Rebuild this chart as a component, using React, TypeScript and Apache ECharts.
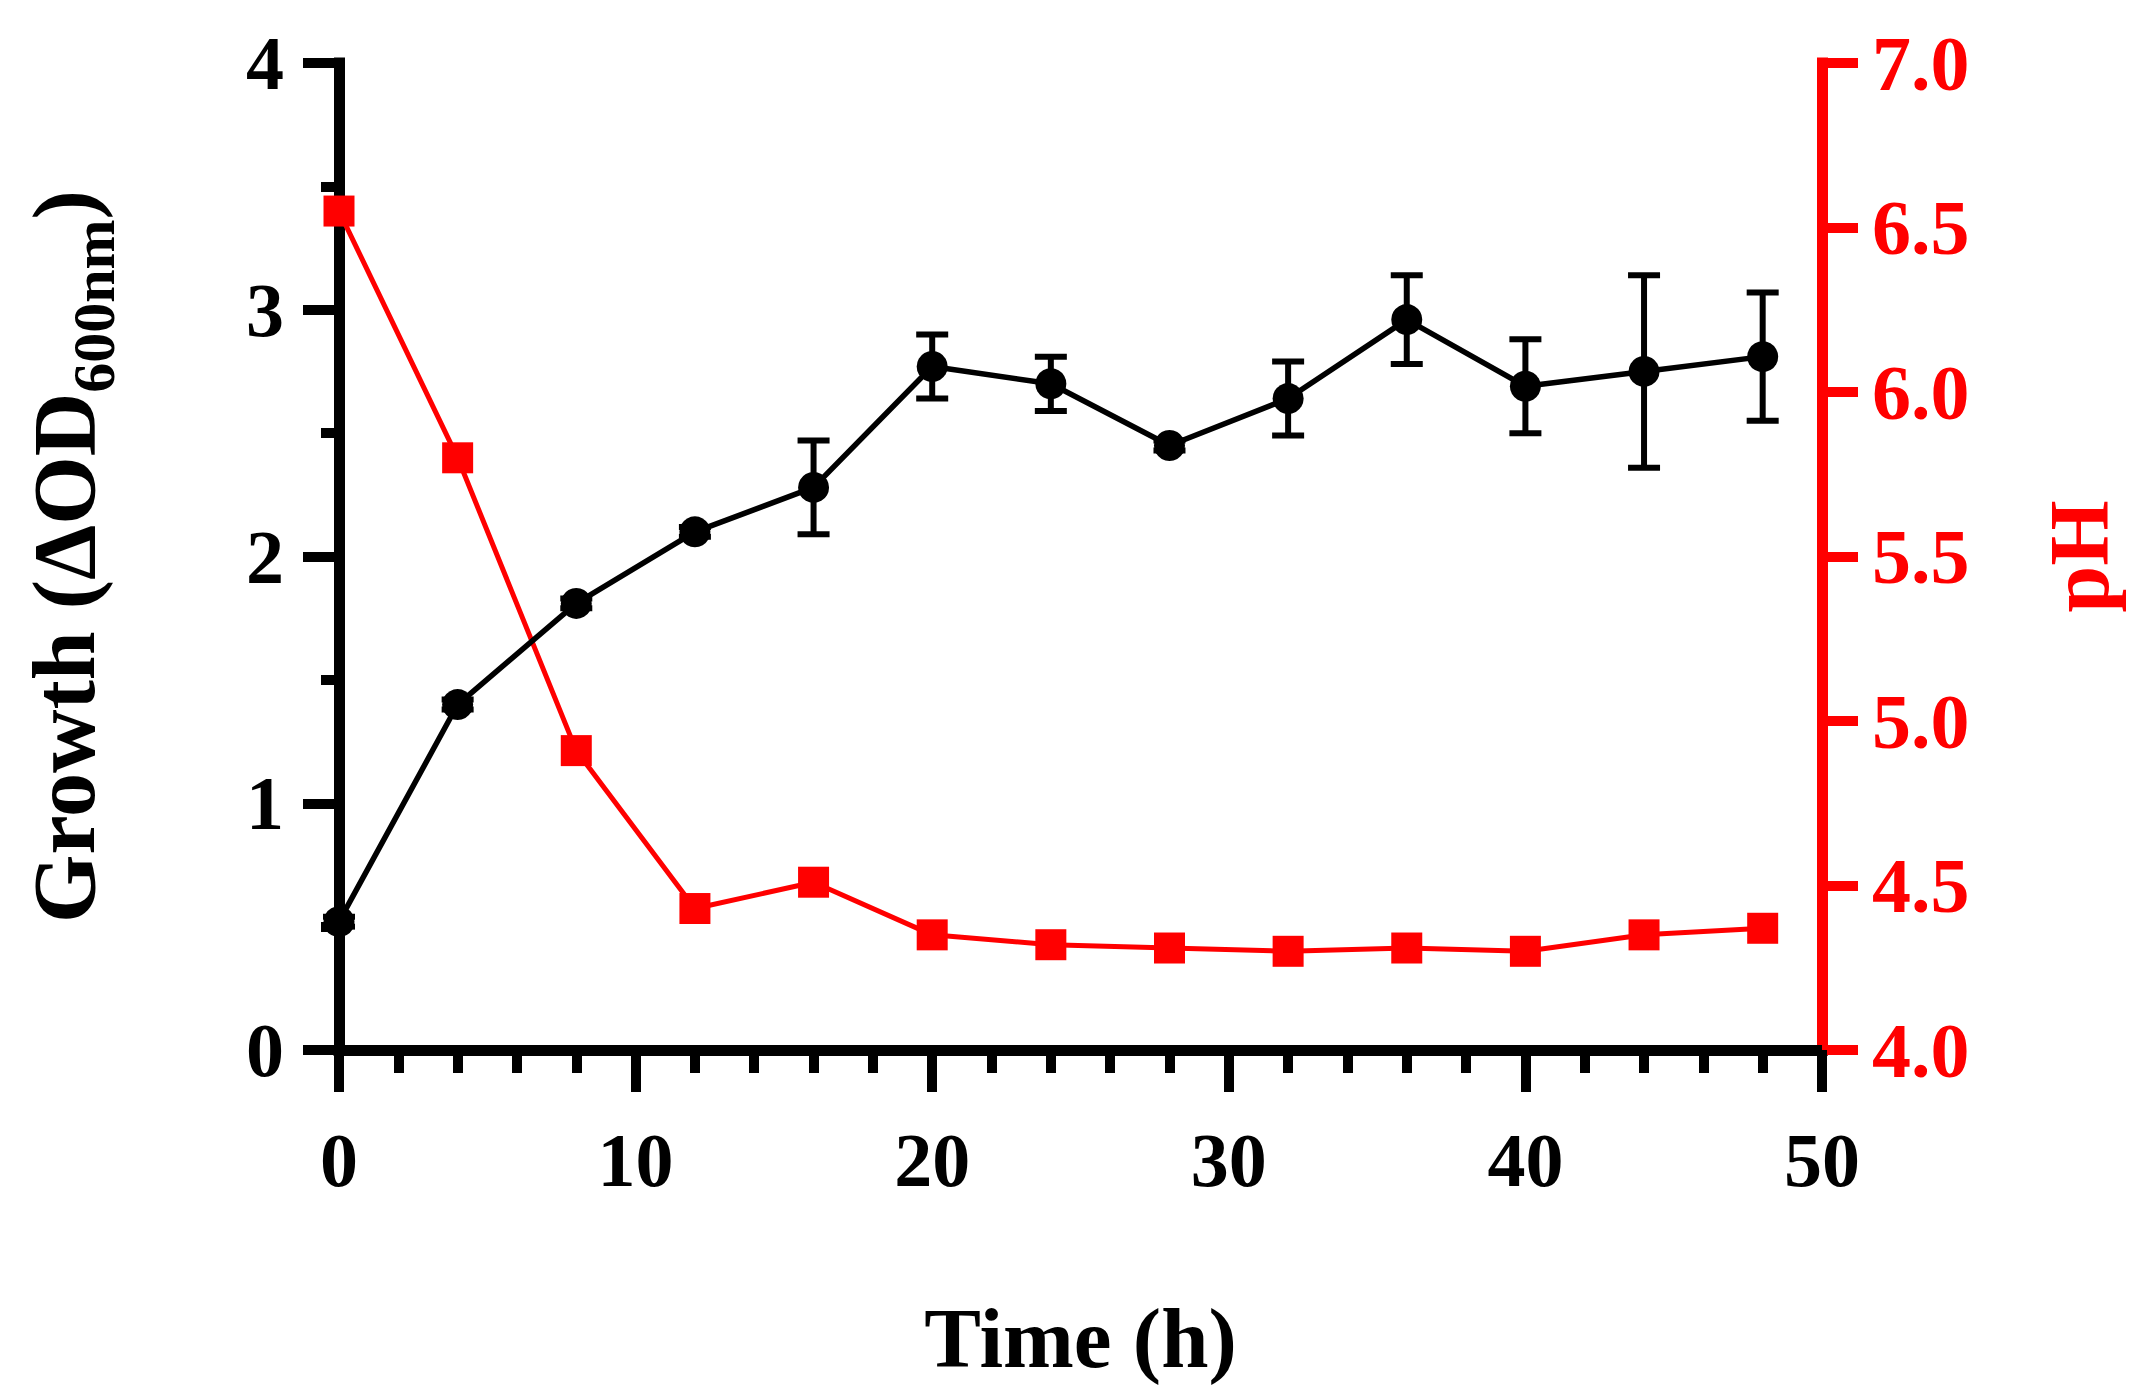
import React, { useEffect, useRef } from "react";
import * as echarts from "echarts";

const times = [0, 4, 8, 12, 16, 20, 24, 28, 32, 36, 40, 44, 48];
const growth = [0.52, 1.40, 1.81, 2.10, 2.28, 2.77, 2.70, 2.45, 2.64, 2.96, 2.69, 2.75, 2.81];
const growthErr = [0.02, 0.02, 0.02, 0.02, 0.19, 0.13, 0.11, 0.02, 0.15, 0.18, 0.19, 0.39, 0.26];
const pH = [6.55, 5.80, 4.91, 4.43, 4.51, 4.35, 4.32, 4.31, 4.30, 4.31, 4.30, 4.35, 4.37];

const FONT = "Liberation Serif";
const BLACK = "#000000";
const RED = "#ff0000";

export default function App() {
  const ref = useRef<HTMLDivElement>(null);

  useEffect(() => {
    document.body.style.margin = "0";
    const chart = echarts.init(ref.current!, null, { renderer: "svg" });
    const growthPts = times.map((t, i) => [t, growth[i]]);
    const phPts = times.map((t, i) => [t, pH[i]]);
    const errPts = times.map((t, i) => [t, growth[i], growthErr[i]]);

    chart.setOption({
      animation: false,
      backgroundColor: "#ffffff",
      grid: { left: 339, right: 333, top: 63, bottom: 347, containLabel: false },
      xAxis: {
        type: "value",
        min: 0,
        max: 50,
        interval: 10,
        name: "Time (h)",
        nameLocation: "middle",
        nameGap: 245,
        nameTextStyle: { fontFamily: FONT, fontWeight: "bold", fontSize: 85, color: BLACK },
        axisLine: { show: true, onZero: false, lineStyle: { color: BLACK, width: 11, cap: "square" } },
        axisTick: { show: true, inside: false, length: 42, lineStyle: { color: BLACK, width: 10 } },
        minorTick: { show: true, splitNumber: 5, length: 23, lineStyle: { color: BLACK, width: 10 } },
        axisLabel: { fontFamily: FONT, fontWeight: "bold", fontSize: 76, color: BLACK, margin: 72 },
        splitLine: { show: false },
      },
      yAxis: [
        {
          type: "value",
          position: "left",
          min: 0,
          max: 4,
          interval: 1,
          name: "{a|Growth (ΔOD}{s|600nm}{a|)}",
          nameLocation: "middle",
          nameGap: 231,
          nameRotate: 90,
          nameTextStyle: {
            rich: {
              a: { fontFamily: FONT, fontWeight: "bold", fontSize: 88, color: BLACK, lineHeight: 88, verticalAlign: "top" },
              s: {
                fontFamily: FONT,
                fontWeight: "bold",
                fontSize: 60,
                color: BLACK,
                lineHeight: 60,
                padding: [44, 0, 0, 0],
                verticalAlign: "top",
              },
            },
          },
          axisLine: { show: true, onZero: false, lineStyle: { color: BLACK, width: 11, cap: "square" } },
          axisTick: { show: true, inside: false, length: 36, lineStyle: { color: BLACK, width: 10 } },
          minorTick: { show: true, splitNumber: 2, length: 18, lineStyle: { color: BLACK, width: 10 } },
          axisLabel: { fontFamily: FONT, fontWeight: "bold", fontSize: 76, color: BLACK, margin: 55 },
          splitLine: { show: false },
        },
        {
          type: "value",
          position: "right",
          min: 4,
          max: 7,
          interval: 0.5,
          name: "pH",
          nameLocation: "middle",
          nameGap: 215,
          nameRotate: 90,
          nameTextStyle: { fontFamily: FONT, fontWeight: "bold", fontSize: 84, color: RED },
          axisLine: { show: true, onZero: false, lineStyle: { color: RED, width: 11, cap: "square" } },
          axisTick: { show: true, inside: false, length: 36, lineStyle: { color: RED, width: 10 } },
          axisLabel: {
            fontFamily: FONT,
            fontWeight: "bold",
            fontSize: 78,
            color: RED,
            margin: 50,
            formatter: (v: number) => v.toFixed(1),
          },
          splitLine: { show: false },
        },
      ],
      series: [
        {
          name: "pH",
          type: "line",
          yAxisIndex: 1,
          data: phPts,
          symbol: "rect",
          symbolSize: 31,
          itemStyle: { color: RED },
          lineStyle: { color: RED, width: 5 },
          z: 3,
        },
        {
          name: "Growth error",
          type: "custom",
          yAxisIndex: 0,
          data: errPts,
          encode: { x: 0, y: 1 },
          z: 4,
          renderItem: (params: any, api: any) => {
            const x = api.value(0);
            const y = api.value(1);
            const e = api.value(2);
            const top = api.coord([x, y + e]);
            const bot = api.coord([x, y - e]);
            const hw = 16;
            const st = { stroke: BLACK, lineWidth: 6 };
            return {
              type: "group",
              children: [
                { type: "line", shape: { x1: top[0], y1: top[1], x2: bot[0], y2: bot[1] }, style: st },
                { type: "line", shape: { x1: top[0] - hw, y1: top[1], x2: top[0] + hw, y2: top[1] }, style: st },
                { type: "line", shape: { x1: bot[0] - hw, y1: bot[1], x2: bot[0] + hw, y2: bot[1] }, style: st },
              ],
            };
          },
        },
        {
          name: "Growth",
          type: "line",
          yAxisIndex: 0,
          data: growthPts,
          symbol: "circle",
          symbolSize: 31,
          itemStyle: { color: BLACK },
          lineStyle: { color: BLACK, width: 5.5 },
          z: 5,
        },
      ],
    });
    return () => chart.dispose();
  }, []);

  return (
    <div
      ref={ref}
      style={{ position: "absolute", left: 0, top: 0, width: 2155, height: 1397, background: "#fff" }}
    />
  );
}
